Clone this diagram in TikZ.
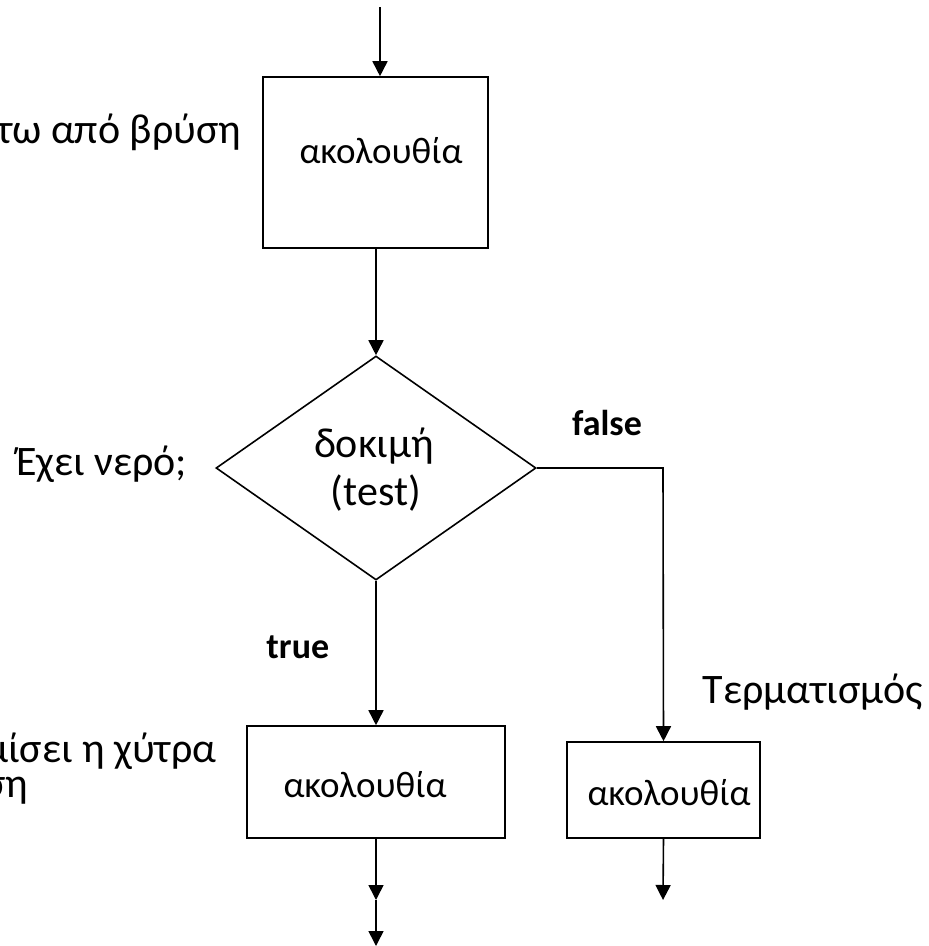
\documentclass[tikz,border=0pt]{standalone}
\usepackage{fontspec}
\setmainfont{Carlito}
\usetikzlibrary{arrows.meta,shapes.geometric}

\begin{document}
\begin{tikzpicture}[x=1pt,y=-1pt,
  line width=1.6pt,
  flow/.style={-{Triangle[length=15pt,width=15pt]}},
  stepbox/.style={draw,rectangle,inner sep=0pt},
  boxtxt/.style={font=\fontsize{37}{44}\selectfont,inner sep=0pt,anchor=base},
  txt/.style={font=\fontsize{42}{50}\selectfont,inner sep=0pt,anchor=base},
  side/.style={txt,anchor=base east},
  cond/.style={font=\bfseries\fontsize{36}{43}\selectfont,inner sep=0pt,anchor=base}
]
\useasboundingbox (0,0) rectangle (929,946);

% boxes and decision
\node[stepbox,minimum width=225pt,minimum height=171pt] (top) at (375.5,162.5) {};
\node[draw,diamond,inner sep=0pt,minimum width=320pt,minimum height=224pt] (test) at (376,468) {};
\node[stepbox,minimum width=258pt,minimum height=112pt] (left) at (376,782) {};
\node[stepbox,minimum width=193pt,minimum height=96pt] (right) at (663.5,790) {};

% texts inside
\node[boxtxt] (ttop) at (381,163) {ακολουθία};
\node[txt] (tt1) at (374,457) {δοκιμή};
\node[txt] (tt2) at (376,505) {(test)};
\node[boxtxt] (tleft) at (365,797) {ακολουθία};
\node[boxtxt] (tright) at (669,805) {ακολουθία};

% branch labels
\node[cond] (lfalse) at (607,435) {false};
\node[cond,anchor=base east] (ltrue) at (330,658) {true};

% side comments
\node[side] (c1) at (242,143) {τω από βρύση};
\node[side] (c2) at (188,475) {Έχει νερό;};
\node[side] (c3) at (217,762) {μίσει η χύτρα};
\node[side] (c4) at (29,797) {ση};
\node[txt,anchor=base west] (c5) at (702,703) {Τερματισμός};

% connectors
\coordinate (in0) at (380,7);
\coordinate (bend) at (663,468);
\coordinate (outl) at (376,900);
\coordinate (outl2) at (376,946);
\coordinate (outr) at (663,900);

\draw[flow] (in0) -- (in0 |- top.north);
\draw[flow] (top.south -| test.north) -- (test.north);
\draw[flow] (test.south) -- (left.north);
\draw[flow] (test.east) -- (bend) -- (right.north);
\draw[flow] (left.south) -- (outl);
\draw[flow] (outl) -- (outl2);
\draw[flow] (right.south) -- (outr);
\end{tikzpicture}
\end{document}
